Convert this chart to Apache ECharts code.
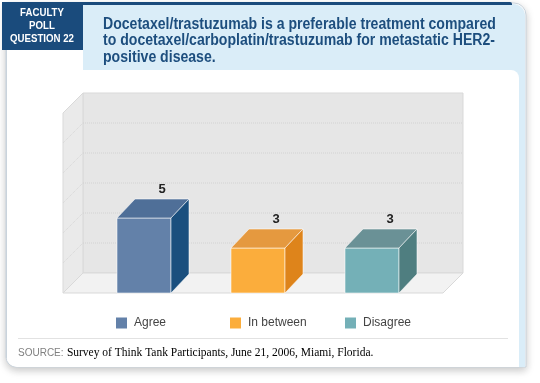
<!DOCTYPE html>
<html><head><meta charset="utf-8">
<script src="https://cdn.jsdelivr.net/npm/echarts/dist/echarts.min.js"></script>
<style>html,body{margin:0;padding:0;background:#fff}#c{width:540px;height:383px}</style>
</head><body><div id="c"></div>
<script>
// ---- data ----
const categories = ['Agree', 'In between', 'Disagree'];
const values = [5, 3, 3];
const yMin = 0, yMax = 12, yInterval = 2;
const frontColors = ['#6381a9', '#fbad3c', '#74b0b7'];
const topColors = ['#4f6f98', '#e5993f', '#6a9196'];
const sideColors = ['#1a4f7e', '#de841b', '#4f7e80'];
const pollLines = ['FACULTY', 'POLL', 'QUESTION 22'];
const titleLines = [
  'Docetaxel/trastuzumab is a preferable treatment compared',
  'to docetaxel/carboplatin/trastuzumab for metastatic HER2-',
  'positive disease.'
];
const sourceLabel = 'SOURCE:';
const sourceText = 'Survey of Think Tank Participants, June 21, 2006, Miami, Florida.';

// ---- layout ----
const WALL_D = [20, -20];
const BAR_D = [18, -19];
const BAR_W = 54;
const DARK = '#1a4b7c';

const chart = echarts.init(document.getElementById('c'), null, {renderer: 'canvas'});

function wallsRender(params, api) {
  const p0 = api.coord([0, yMin]);
  const p1 = api.coord([1, yMax]);
  const x0 = p0[0], yb = p0[1], x1 = p1[0], yt = p1[1];
  const dx = WALL_D[0], dy = WALL_D[1];
  const edge = '#d9d9d9';
  const children = [
    {type: 'rect', shape: {x: x0 + dx, y: yt + dy, width: x1 - x0, height: yb - yt},
     style: {fill: '#e6e6e6', stroke: edge, lineWidth: 1}},
    {type: 'polygon', shape: {points: [[x0, yb], [x0, yt], [x0 + dx, yt + dy], [x0 + dx, yb + dy]]},
     style: {fill: '#eaeaea', stroke: edge, lineWidth: 1}},
    {type: 'polygon', shape: {points: [[x0, yb], [x1, yb], [x1 + dx, yb + dy], [x0 + dx, yb + dy]]},
     style: {fill: '#f2f2f2', stroke: edge, lineWidth: 1}}
  ];
  for (let v = yMin + yInterval; v < yMax; v += yInterval) {
    const y = api.coord([0, v])[1];
    children.push({type: 'line', shape: {x1: x0 + dx, y1: y + dy, x2: x1 + dx, y2: y + dy},
      style: {stroke: '#d2d2d2', lineWidth: 1, lineDash: [1, 1]}});
    children.push({type: 'line', shape: {x1: x0, y1: y, x2: x0 + dx, y2: y + dy},
      style: {stroke: '#d6d6d6', lineWidth: 1, lineDash: [1, 1]}});
  }
  return {type: 'group', children};
}

function makeBarRender(i) {
  return function (params, api) {
    const c = api.coord([api.value(0), api.value(1)]);
    const b = api.coord([api.value(0), 0]);
    const xl = c[0] - BAR_W / 2, xr = c[0] + BAR_W / 2;
    const yt = c[1], yb = b[1];
    const dx = BAR_D[0], dy = BAR_D[1];
    const st = 'rgba(255,255,255,0.55)';
    return {type: 'group', children: [
      {type: 'rect', shape: {x: xl, y: yt, width: BAR_W, height: yb - yt},
       style: {fill: frontColors[i], stroke: st, lineWidth: 1}},
      {type: 'polygon', shape: {points: [[xl, yt], [xr, yt], [xr + dx, yt + dy], [xl + dx, yt + dy]]},
       style: {fill: topColors[i], stroke: st, lineWidth: 1}},
      {type: 'polygon', shape: {points: [[xr, yt], [xr, yb], [xr + dx, yb + dy], [xr + dx, yt + dy]]},
       style: {fill: sideColors[i], stroke: st, lineWidth: 1}},
      {type: 'text', style: {text: String(api.value(1)), x: c[0] + dx / 2 + 9, y: yt + dy - 3,
        align: 'center', verticalAlign: 'bottom', fontSize: 13, fontWeight: 'bold',
        fontFamily: 'Liberation Sans, Arial, sans-serif', fill: '#222'}}
    ]};
  };
}

const legendLefts = [116, 230, 345];

const graphic = [
  // card with shadow
  {type: 'rect', z: -10, shape: {x: 6, y: 3, width: 520, height: 364, r: [0, 12, 0, 10]},
   style: {fill: '#ffffff', stroke: '#c9d3dc', lineWidth: 1, shadowBlur: 8, shadowColor: 'rgba(0,0,0,0.22)', shadowOffsetY: 3}},
  // light blue header panel + right strip
  {type: 'rect', z: -9, shape: {x: 83, y: 4, width: 442, height: 363, r: [0, 12, 0, 0]},
   style: {fill: '#daedf8'}},
  // white content area
  {type: 'rect', z: -8, shape: {x: 7, y: 70, width: 512, height: 297, r: [0, 8, 0, 10]},
   style: {fill: '#ffffff'}},
  {type: 'rect', z: -8, shape: {x: 7, y: 48, width: 76, height: 30},
   style: {fill: '#ffffff'}},
  // left border line
  {type: 'line', z: -7, shape: {x1: 6.5, y1: 48, x2: 6.5, y2: 358},
   style: {stroke: '#c9d3dc', lineWidth: 1}},
  // dark top line
  {type: 'rect', z: -7, shape: {x: 80, y: 2, width: 432, height: 3, r: [0, 2, 0, 0]},
   style: {fill: DARK}},
  // dark poll box
  {type: 'rect', z: -7, shape: {x: 2, y: 2, width: 81, height: 48},
   style: {fill: DARK}},
  // separator
  {type: 'line', z: -7, shape: {x1: 18, y1: 338.5, x2: 508, y2: 338.5},
   style: {stroke: '#e2e2e2', lineWidth: 1}},
  // source
  {type: 'text', z: 5, x: 18, y: 353, style: {
    text: '{a|' + sourceLabel + '} {b|' + sourceText + '}',
    verticalAlign: 'middle', align: 'left',
    rich: {
      a: {fontFamily: 'Liberation Sans, Arial, sans-serif', fontSize: 10, fill: '#808080', fill2: '', color: '#808080'},
      b: {fontFamily: 'Liberation Serif, Times New Roman, serif', fontSize: 11.5, color: '#555555'}
    }
  }}
];
pollLines.forEach((t, k) => {
  graphic.push({type: 'text', z: 5, x: 42, y: 13 + k * 13, scaleX: 0.88, style: {
    text: t, x: 0, y: 0, align: 'center', verticalAlign: 'middle',
    fontFamily: 'Liberation Sans, Arial, sans-serif', fontWeight: 'bold', fontSize: 11, fill: '#ffffff'}});
});
titleLines.forEach((t, k) => {
  graphic.push({type: 'text', z: 5, x: 103, y: 24.5 + k * 16.5, scaleX: 0.88, style: {
    text: t, x: 0, y: 0, align: 'left', verticalAlign: 'middle',
    fontFamily: 'Liberation Sans, Arial, sans-serif', fontWeight: 'bold', fontSize: 16, fill: '#1d4e7e'}});
});

const series = [{
  type: 'custom', xAxisIndex: 0, yAxisIndex: 0, z: 1, silent: true,
  renderItem: wallsRender, data: [[0, 0]]
}];
categories.forEach((name, i) => {
  series.push({
    type: 'custom', name, xAxisIndex: 1, yAxisIndex: 1, z: 3,
    itemStyle: {color: frontColors[i]},
    renderItem: makeBarRender(i),
    data: [[i, values[i]]]
  });
});

chart.setOption({
  animation: false,
  graphic,
  grid: [
    {left: 63, right: 97, top: 113, bottom: 90},
    {left: 87, right: 111, top: 113, bottom: 90}
  ],
  xAxis: [
    {type: 'value', gridIndex: 0, min: 0, max: 1, show: false},
    {type: 'category', gridIndex: 1, data: categories, show: false}
  ],
  yAxis: [
    {type: 'value', gridIndex: 0, min: yMin, max: yMax, interval: yInterval, show: false},
    {type: 'value', gridIndex: 1, min: yMin, max: yMax, interval: yInterval, show: false}
  ],
  legend: categories.map((name, i) => ({
    data: [name], left: legendLefts[i], top: 317, padding: 0,
    itemWidth: 11, itemHeight: 11, icon: 'rect', selectedMode: false,
    textStyle: {fontSize: 12, color: '#444', fontFamily: 'Liberation Sans, Arial, sans-serif', padding: [0, 0, 0, 2]}
  })),
  series
});
</script></body></html>
